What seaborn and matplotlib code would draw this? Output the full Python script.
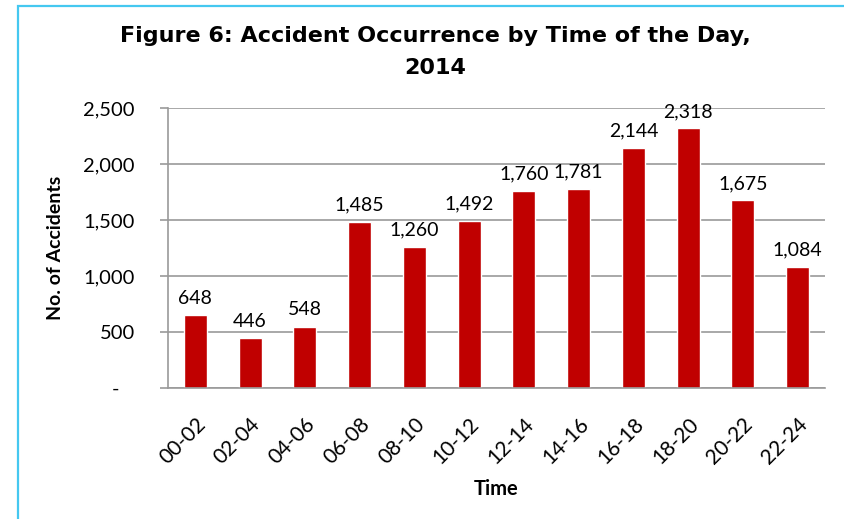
import matplotlib
matplotlib.use("Agg")
import matplotlib.pyplot as plt
import matplotlib.ticker as mticker
from matplotlib.patches import Rectangle
import pandas as pd
import seaborn as sns

# Chart data
time_slots = ['00-02', '02-04', '04-06', '06-08', '08-10', '10-12',
              '12-14', '14-16', '16-18', '18-20', '20-22', '22-24']
accidents = [648, 446, 548, 1485, 1260, 1492, 1760, 1781, 2144, 2318, 1675, 1084]
y_ticks = [0, 500, 1000, 1500, 2000, 2500]

df = pd.DataFrame({'Time': time_slots, 'Accidents': accidents})

sns.set_style('white')
plt.rcParams['font.family'] = ['Lato', 'DejaVu Sans']
plt.rcParams['text.color'] = 'black'
plt.rcParams['axes.labelcolor'] = 'black'
plt.rcParams['xtick.color'] = 'black'
plt.rcParams['ytick.color'] = 'black'

fig = plt.figure(figsize=(8.45, 5.19), dpi=100)
ax = fig.add_axes([0.1988, 0.2524, 0.7775, 0.5395])

sns.barplot(data=df, x='Time', y='Accidents', color='#C00000',
            width=0.42, saturation=1, ax=ax)

# value labels
labels = [f'{v:,}' for v in accidents]
ax.bar_label(ax.containers[0], labels=labels, padding=6, fontsize=14, color='black')

ax.set_ylim(0, 2500)
ax.set_xlim(-0.5, len(time_slots) - 0.5)
ax.set_yticks(y_ticks)
ax.yaxis.set_major_formatter(mticker.FuncFormatter(
    lambda v, p: '-   ' if v == 0 else f'{int(v):,}'))
ax.grid(axis='y', color='#9a9a9a', linewidth=1.2)
ax.set_axisbelow(True)

for s in ['top', 'right']:
    ax.spines[s].set_visible(False)
for s in ['left', 'bottom']:
    ax.spines[s].set_color('#9a9a9a')
    ax.spines[s].set_linewidth(1.2)

# Excel-style ticks between categories
ax.set_xticks(range(len(time_slots)))
ax.set_xticklabels(time_slots, rotation=45, ha='right', rotation_mode='anchor')
ax.set_xticks([i - 0.5 for i in range(len(time_slots) + 1)], minor=True)
ax.tick_params(axis='x', which='major', length=0, pad=19, labelsize=15)
ax.tick_params(axis='x', which='minor', length=6, width=1.2, color='#9a9a9a', direction='out')
ax.tick_params(axis='y', length=6, width=1.2, color='#9a9a9a', direction='out',
               pad=18, labelsize=14.5, left=True)

ax.set_xlabel('Time', fontsize=14.5, fontweight='bold', labelpad=8)
ax.set_ylabel('No. of Accidents', fontsize=14, fontweight='bold', labelpad=14)

fig.text(0.515, 0.9, 'Figure 6: Accident Occurrence by Time of the Day,\n2014',
         ha='center', va='center', fontsize=16, fontweight='bold',
         family=['DejaVu Sans'], linespacing=1.75)

# light cyan frame (left and top edges visible)
fig.patches.append(Rectangle((18 / 845, -0.05), 1.2, (519 - 6) / 519 + 0.05,
                             transform=fig.transFigure, fill=False,
                             edgecolor='#45C8F0', linewidth=1.6))

fig.savefig('out.png', dpi=100)
